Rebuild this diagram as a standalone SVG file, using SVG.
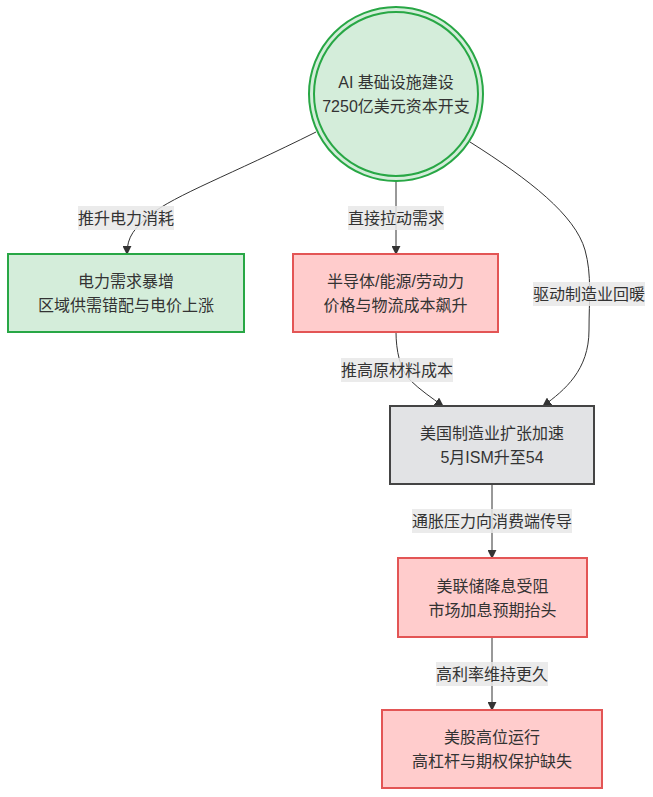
<svg xmlns="http://www.w3.org/2000/svg" width="653" height="797" viewBox="0 0 653 797">
<defs>
<marker id="arr" viewBox="0 0 10 10" refX="9" refY="5" markerWidth="9" markerHeight="9" markerUnits="userSpaceOnUse" orient="auto">
<path d="M0,0 L10,5 L0,10 z" fill="#333"/>
</marker>
<style>
text{font-family:"Liberation Sans","Noto Sans CJK SC",sans-serif;font-size:16px;fill:#333;text-anchor:middle;dominant-baseline:central}
.edge{fill:none;stroke:#333;stroke-width:1;marker-end:url(#arr)}
.lbl{fill:#e8e8e8;fill-opacity:0.85}
.green{fill:#d4edda;stroke:#28a745;stroke-width:2}
.red{fill:#ffcccc;stroke:#e35555;stroke-width:2}
.gray{fill:#e2e3e5;stroke:#444;stroke-width:2}
</style>
</defs>
<rect width="653" height="797" fill="#fff"/>
<g id="connectors">
<path class="edge" d="M316,132 C230,175 175,195 150,215 C135,228 127,236 127,254"/>
<path class="edge" d="M396,181 L396,254"/>
<path class="edge" d="M470,142 C530,180 575,215 585,250 C592,275 589,300 589,330 C589,370 565,390 543,406"/>
<path class="edge" d="M396,332 C396,350 400,370 410,380 C420,390 432,398 443,406"/>
<path class="edge" d="M492,485 L492,558"/>
<path class="edge" d="M492,637 L492,710"/>
</g>
<g id="edge-labels">
<rect class="lbl" x="78" y="206" width="96" height="24"/><text x="126" y="218">推升电力消耗</text>
<rect class="lbl" x="348" y="206" width="96" height="24"/><text x="396" y="218">直接拉动需求</text>
<rect class="lbl" x="533" y="282" width="112" height="24"/><text x="589" y="294">驱动制造业回暖</text>
<rect class="lbl" x="341" y="358" width="112" height="24"/><text x="397" y="370">推高原材料成本</text>
<rect class="lbl" x="412" y="509" width="160" height="24"/><text x="492" y="521">通胀压力向消费端传导</text>
<rect class="lbl" x="436" y="662" width="112" height="24"/><text x="492" y="674">高利率维持更久</text>
</g>
<g id="n-ai">
<circle class="green" cx="396" cy="94" r="87"/>
<circle class="green" cx="396" cy="94" r="82"/>
<text x="396" y="82">AI 基础设施建设</text>
<text x="396" y="106">7250亿美元资本开支</text>
</g>
<g id="n-power">
<rect class="green" x="8" y="254" width="236" height="78"/>
<text x="126" y="281">电力需求暴增</text>
<text x="126" y="305">区域供需错配与电价上涨</text>
</g>
<g id="n-semi">
<rect class="red" x="293" y="254" width="205" height="78"/>
<text x="395.5" y="281">半导体/能源/劳动力</text>
<text x="395.5" y="305">价格与物流成本飙升</text>
</g>
<g id="n-mfg">
<rect class="gray" x="390" y="406" width="204" height="78"/>
<text x="492" y="433">美国制造业扩张加速</text>
<text x="492" y="457">5月ISM升至54</text>
</g>
<g id="n-fed">
<rect class="red" x="398" y="558" width="189" height="79"/>
<text x="492.5" y="586">美联储降息受阻</text>
<text x="492.5" y="610">市场加息预期抬头</text>
</g>
<g id="n-stocks">
<rect class="red" x="382" y="710" width="220" height="78"/>
<text x="492" y="737">美股高位运行</text>
<text x="492" y="761">高杠杆与期权保护缺失</text>
</g>
</svg>
